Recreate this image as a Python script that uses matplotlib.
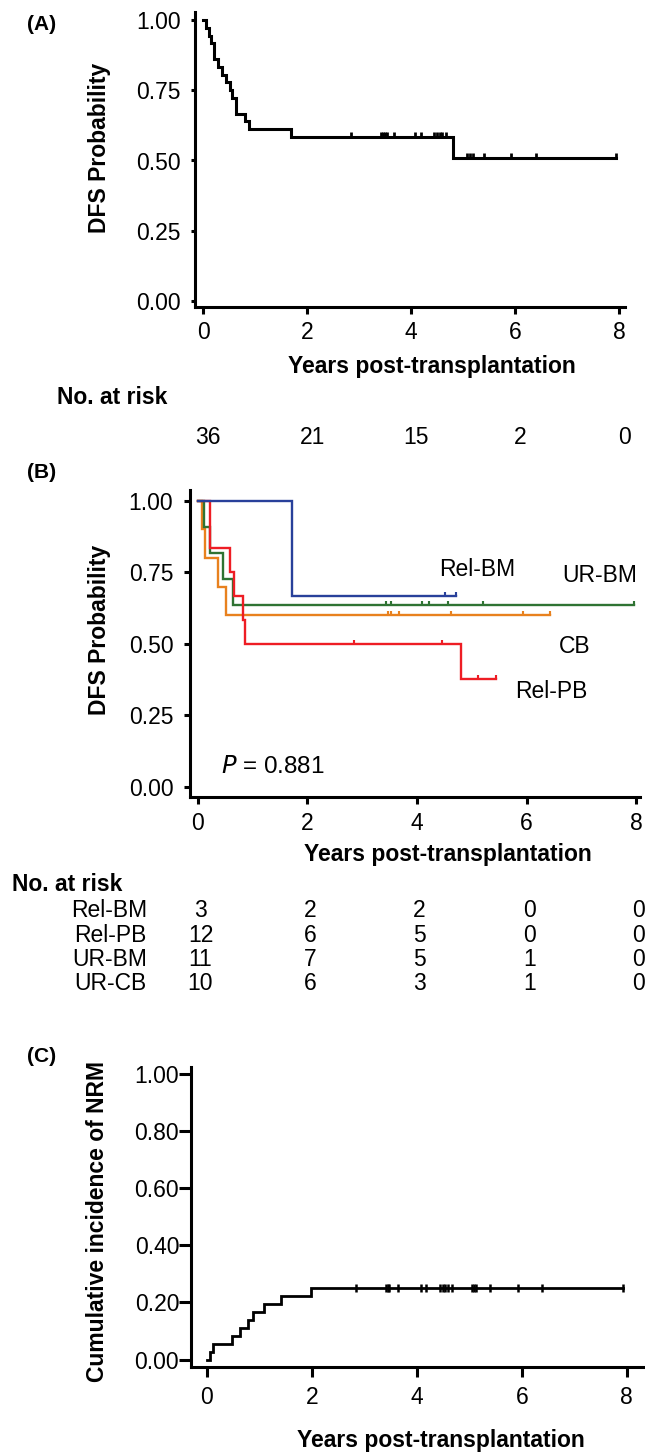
import numpy as np
import matplotlib
matplotlib.use("Agg")
import matplotlib.pyplot as plt
from matplotlib.transforms import blended_transform_factory as btf

plt.rcParams['font.family'] = ['Liberation Sans', 'DejaVu Sans']

# ---------------- data ----------------
year_ticks = [0, 2, 4, 6, 8]

# Panel A: overall DFS
a_event_t = [0.06, 0.11, 0.16, 0.21, 0.28, 0.37, 0.45, 0.51, 0.56, 0.63, 0.81, 0.88, 1.70, 4.81]
a_event_s = [0.972, 0.944, 0.917, 0.861, 0.833, 0.806, 0.778, 0.750, 0.722, 0.667, 0.639, 0.611, 0.582, 0.509]
a_cens_t = [2.84, 3.43, 3.47, 3.50, 3.53, 3.67, 4.08, 4.20, 4.45, 4.50, 4.55, 4.60, 4.68,
            5.08, 5.13, 5.19, 5.40, 5.92, 6.41, 7.95]
a_risk = [36, 21, 15, 2, 0]

# Panel B: DFS by donor source
b_names = ['Rel-BM', 'Rel-PB', 'UR-BM', 'CB']
b_colors = ['#28409A', '#EE1D24', '#2F7333', '#E8811E']
b_event_t = {
    'Rel-BM': [1.72],
    'Rel-PB': [0.23, 0.59, 0.66, 0.83, 0.86, 4.80],
    'UR-BM': [0.12, 0.22, 0.46, 0.65],
    'CB': [0.07, 0.14, 0.37, 0.52],
}
b_event_s = {
    'Rel-BM': [0.667],
    'Rel-PB': [0.833, 0.750, 0.667, 0.583, 0.500, 0.375],
    'UR-BM': [0.909, 0.818, 0.727, 0.636],
    'CB': [0.900, 0.800, 0.700, 0.600],
}
b_cens_t = {
    'Rel-BM': [4.51, 4.72],
    'Rel-PB': [2.85, 4.45, 5.12, 5.44],
    'UR-BM': [3.44, 3.53, 4.10, 4.22, 4.56, 5.20, 7.96],
    'CB': [3.47, 3.53, 3.68, 4.63, 5.94, 6.43],
}
b_label_pos = {'Rel-BM': (5.1, 0.758), 'UR-BM': (7.34, 0.74), 'CB': (6.88, 0.49), 'Rel-PB': (6.45, 0.332)}
b_p_text = '= 0.881'
b_risk_rows = ['Rel-BM', 'Rel-PB', 'UR-BM', 'UR-CB']
b_risk = [[3, 2, 2, 0, 0],
          [12, 6, 5, 0, 0],
          [11, 7, 5, 1, 0],
          [10, 6, 3, 1, 0]]

# Panel C: cumulative incidence of NRM
c_event_t = [0.05, 0.11, 0.48, 0.63, 0.79, 0.87, 1.08, 1.42, 1.98]
c_event_v = [0.028, 0.056, 0.083, 0.111, 0.139, 0.167, 0.194, 0.222, 0.250]
c_cens_t = [2.84, 3.42, 3.45, 3.47, 3.64, 4.07, 4.18, 4.45, 4.50, 4.54, 4.60, 4.67,
            5.06, 5.09, 5.12, 5.40, 5.92, 6.39, 7.93]

# ---------------- figure ----------------
W, H = 645, 1454
fig = plt.figure(figsize=(W / 100, H / 100), dpi=100)
FS = 16.5

def px_axes(x0, y0, x1, y1):
    return fig.add_axes([x0 / W, 1 - y1 / H, (x1 - x0) / W, (y1 - y0) / H])

def step_value(t, times, vals, start):
    idx = np.searchsorted(times, t, side='right')
    return np.where(idx == 0, start, np.asarray(vals)[np.maximum(idx - 1, 0)])

def style_axes(ax, ylen, ypad, xlen, xpad):
    for s in ['top', 'right']:
        ax.spines[s].set_visible(False)
    for s in ['left', 'bottom']:
        ax.spines[s].set_linewidth(2.2)
    ax.tick_params(axis='y', direction='out', length=ylen, width=2.2, pad=ypad, labelsize=FS)
    ax.tick_params(axis='x', direction='out', length=xlen, width=2.2, pad=xpad, labelsize=FS)
    ax.set_xticks(year_ticks)

up_tick = [(0, 0), (0, 1)]

def km(ax, times, vals, start, cens, color, lw, ms, marker=up_tick):
    end = max(cens)
    xs = [0] + list(times) + [end]
    ys = [start] + list(vals) + [vals[-1]]
    ax.step(xs, ys, where='post', color=color, lw=lw, solid_joinstyle='miter')
    cy = step_value(np.array(cens), times, vals, start)
    ax.plot(cens, cy, ls='none', marker=marker, ms=ms, mec=color, mfc='none', mew=lw * 0.9)

# ---------- Panel A ----------
axA = px_axes(195, 12, 625, 307)
axA.set_xlim(-8 / 52, (625 - 203) / 52)
axA.set_ylim(-6 / 281, 1 + 8 / 281)
style_axes(axA, 3, 7, 5, 5)
axA.set_yticks([0, 0.25, 0.5, 0.75, 1.0])
axA.set_yticklabels(['0.00', '0.25', '0.50', '0.75', '1.00'])
km(axA, a_event_t, a_event_s, 1.0, a_cens_t, 'black', 2.2, 7)
fig.text(99 / W, 1 - 148 / H, 'DFS Probability', rotation=90, ha='center', va='center',
         fontsize=FS, fontweight='bold')
fig.text(432 / W, 1 - 366 / H, 'Years post-transplantation', ha='center', va='center',
         fontsize=FS, fontweight='bold')
fig.text(57 / W, 1 - 398 / H, 'No. at risk', ha='left', va='center', fontsize=FS, fontweight='bold')
trA = btf(axA.transData, fig.transFigure)
for xv, n in zip(year_ticks, a_risk):
    axA.text(xv + 0.1, 1 - 437 / H, str(n), transform=trA, ha='center', va='center', fontsize=FS)
fig.text(42 / W, 1 - 24 / H, '(A)', ha='center', va='center', fontsize=15, fontweight='bold')

# ---------- Panel B ----------
axB = px_axes(190, 490, 640, 797)
axB.set_xlim(-7.7 / 54.8, (640 - 197.7) / 54.8)
axB.set_ylim(-10.3 / 286, 1 + 10.7 / 286)
style_axes(axB, 4, 8, 5, 6)
axB.set_yticks([0, 0.25, 0.5, 0.75, 1.0])
axB.set_yticklabels(['0.00', '0.25', '0.50', '0.75', '1.00'])
for name in ['CB', 'UR-BM', 'Rel-PB', 'Rel-BM']:
    c = b_colors[b_names.index(name)]
    km(axB, b_event_t[name], b_event_s[name], 1.0, b_cens_t[name], c, 1.7, 6)
for name in b_names:
    x, y = b_label_pos[name]
    axB.text(x, y, name, ha='center', va='center', fontsize=FS, clip_on=False)
axB.text(0.42, 0.07, '$P$ ' + b_p_text, ha='left', va='center', fontsize=FS + 1)
fig.text(99 / W, 1 - 630 / H, 'DFS Probability', rotation=90, ha='center', va='center',
         fontsize=FS, fontweight='bold')
fig.text(448 / W, 1 - 855 / H, 'Years post-transplantation', ha='center', va='center',
         fontsize=FS, fontweight='bold')
fig.text(12 / W, 1 - 884 / H, 'No. at risk', ha='left', va='center', fontsize=FS, fontweight='bold')
trB = btf(axB.transData, fig.transFigure)
for r, (lab, row) in enumerate(zip(b_risk_rows, b_risk)):
    yy = 1 - (911 + 24 * r) / H
    fig.text(147 / W, yy, lab, ha='right', va='center', fontsize=FS)
    for xv, n in zip(year_ticks, row):
        axB.text(xv + 0.05, yy, str(n), transform=trB, ha='center', va='center', fontsize=FS)
fig.text(42 / W, 1 - 472 / H, '(B)', ha='center', va='center', fontsize=15, fontweight='bold')

# ---------- Panel C ----------
axC = px_axes(191, 1067, 645, 1367)
axC.set_xlim(-16 / 52.5, (645 - 206.7) / 52.5)
axC.set_ylim(-7.4 / 286, 1 + 6.6 / 286)
style_axes(axC, 8.5, 0, 7, 7)
axC.set_yticks([0, 0.2, 0.4, 0.6, 0.8, 1.0])
axC.set_yticklabels(['0.00', '0.20', '0.40', '0.60', '0.80', '1.00'])
km(axC, c_event_t, c_event_v, 0.0, c_cens_t, 'black', 2.0, 6, marker='|')
fig.text(97 / W, 1 - 1222 / H, 'Cumulative incidence of NRM', rotation=90, ha='center',
         va='center', fontsize=FS, fontweight='bold')
fig.text(441 / W, 1 - 1440 / H, 'Years post-transplantation', ha='center', va='center',
         fontsize=FS, fontweight='bold')
fig.text(42 / W, 1 - 1056 / H, '(C)', ha='center', va='center', fontsize=15, fontweight='bold')

fig.savefig('out.png', dpi=100)
